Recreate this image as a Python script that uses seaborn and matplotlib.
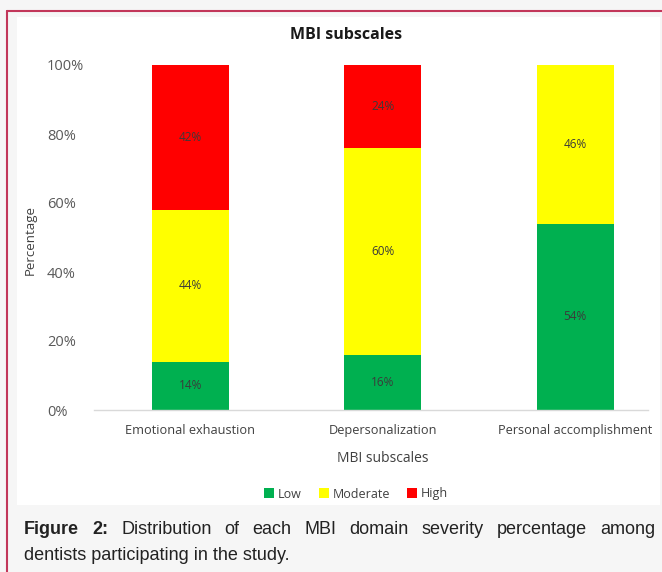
import matplotlib
matplotlib.use("Agg")
import matplotlib.pyplot as plt
import seaborn as sns
import pandas as pd
import numpy as np
from matplotlib.patches import Rectangle, Patch
from matplotlib.lines import Line2D

categories = ["Emotional exhaustion", "Depersonalization", "Personal accomplishment"]
low = [14, 16, 54]
moderate = [44, 60, 46]
high = [42, 24, 0]
series_names = ["Low", "Moderate", "High"]
colors = {"Low": "#00b050", "Moderate": "#ffff00", "High": "#ff0000"}
yticks = [0, 20, 40, 60, 80, 100]

sns.set_theme(style="white")
plt.rcParams['font.family'] = ['Open Sans', 'DejaVu Sans']

W, H = 662, 572
fig = plt.figure(figsize=(W / 100, H / 100), dpi=100)
fig.patch.set_facecolor("#f6f6f6")

def fx(x):
    return x / W

def fy(y):
    return 1 - y / H

# white chart panel
fig.patches.append(Rectangle((fx(17), fy(505)), fx(660) - fx(17), fy(17) - fy(505),
                             transform=fig.transFigure, facecolor="white", edgecolor="none", zorder=-5))
# crimson frame lines
fig.lines.append(Line2D([fx(7), 1.0], [fy(11), fy(11)], transform=fig.transFigure, color="#c2375a", lw=1.5))
fig.lines.append(Line2D([fx(7), fx(7)], [fy(11), 0.0], transform=fig.transFigure, color="#c2375a", lw=1.5))

ax = fig.add_axes([fx(94), fy(410), fx(648) - fx(94), fy(65) - fy(410)])
ax.set_facecolor("none")
ax.set_zorder(2)

df = pd.DataFrame({"cat": categories, "Low": low, "Moderate": moderate, "High": high})
df["cum_low"] = df["Low"]
df["cum_mod"] = df["Low"] + df["Moderate"]
df["cum_high"] = df["Low"] + df["Moderate"] + df["High"]

sns.barplot(data=df, x="cat", y="cum_high", color=colors["High"], width=0.4, ax=ax,
            saturation=1, edgecolor="none")
sns.barplot(data=df, x="cat", y="cum_mod", color=colors["Moderate"], width=0.4, ax=ax,
            saturation=1, edgecolor="none")
sns.barplot(data=df, x="cat", y="cum_low", color=colors["Low"], width=0.4, ax=ax,
            saturation=1, edgecolor="none")

for i in range(len(categories)):
    bottoms = [0, low[i], low[i] + moderate[i]]
    vals = [low[i], moderate[i], high[i]]
    for b, v in zip(bottoms, vals):
        if v > 0:
            ax.text(i, b + v / 2, f"{v}%", ha="center", va="center", fontsize=8.5, color="#3a3a3a")

ax.set_ylim(0, 100)
ax.set_xlim(-0.5, 2.378)
ax.set_yticks(yticks)
ax.set_yticklabels([f"{t}%" for t in yticks], fontsize=10.5, color="#595959", ha="left")
ax.tick_params(axis="x", labelsize=9.2, colors="#404040", length=0, pad=10)
ax.tick_params(axis="y", length=0, pad=34)
for s in ["top", "right", "left"]:
    ax.spines[s].set_visible(False)
ax.spines["bottom"].set_color("#d9d9d9")
ax.spines["bottom"].set_linewidth(1)
ax.grid(False)
ax.set_xlabel("")
ax.set_ylabel("")

fig.text(fx(30), fy(240), "Percentage", rotation=90, ha="center", va="center", fontsize=9.5, color="#404040")
fig.text(fx(383), fy(458), "MBI subscales", ha="center", va="center", fontsize=10, color="#404040")
fig.text(fx(346), fy(35), "MBI subscales", ha="center", va="center", fontsize=11.5,
         fontweight="bold", color="#1a1a1a")

handles = [Patch(facecolor=colors[n], edgecolor="none", label=n) for n in series_names]
fig.legend(handles=handles, loc="center", bbox_to_anchor=(fx(356), fy(494)), ncol=3, frameon=False,
           fontsize=9, handlelength=0.8, handleheight=0.8, handletextpad=0.3, columnspacing=1.4,
           labelcolor="#404040")

# caption, justified first line
cap_font = ['Liberation Sans', 'DejaVu Sans']
fig.canvas.draw()
renderer = fig.canvas.get_renderer()
line1 = ["Figure", "2:", "Distribution", "of", "each", "MBI", "domain", "severity", "percentage", "among"]
x0, x1 = 24, 655
ytxt = fy(530)
widths = []
arts = []
for k, w in enumerate(line1):
    t = fig.text(0, ytxt, w, ha="left", va="center", fontsize=13, family=cap_font,
                 fontweight="bold" if k < 2 else "normal", color="#222222")
    bb = t.get_window_extent(renderer)
    widths.append(bb.width)
    arts.append(t)
gap = (x1 - x0 - sum(widths)) / (len(line1) - 1)
xp = x0
for t, wd in zip(arts, widths):
    t.set_x(fx(xp))
    xp += wd + gap
fig.text(fx(24), fy(555), "dentists participating in the study.", ha="left", va="center",
         fontsize=13, family=cap_font, color="#222222")

fig.savefig("out.png", dpi=100, facecolor=fig.get_facecolor())
